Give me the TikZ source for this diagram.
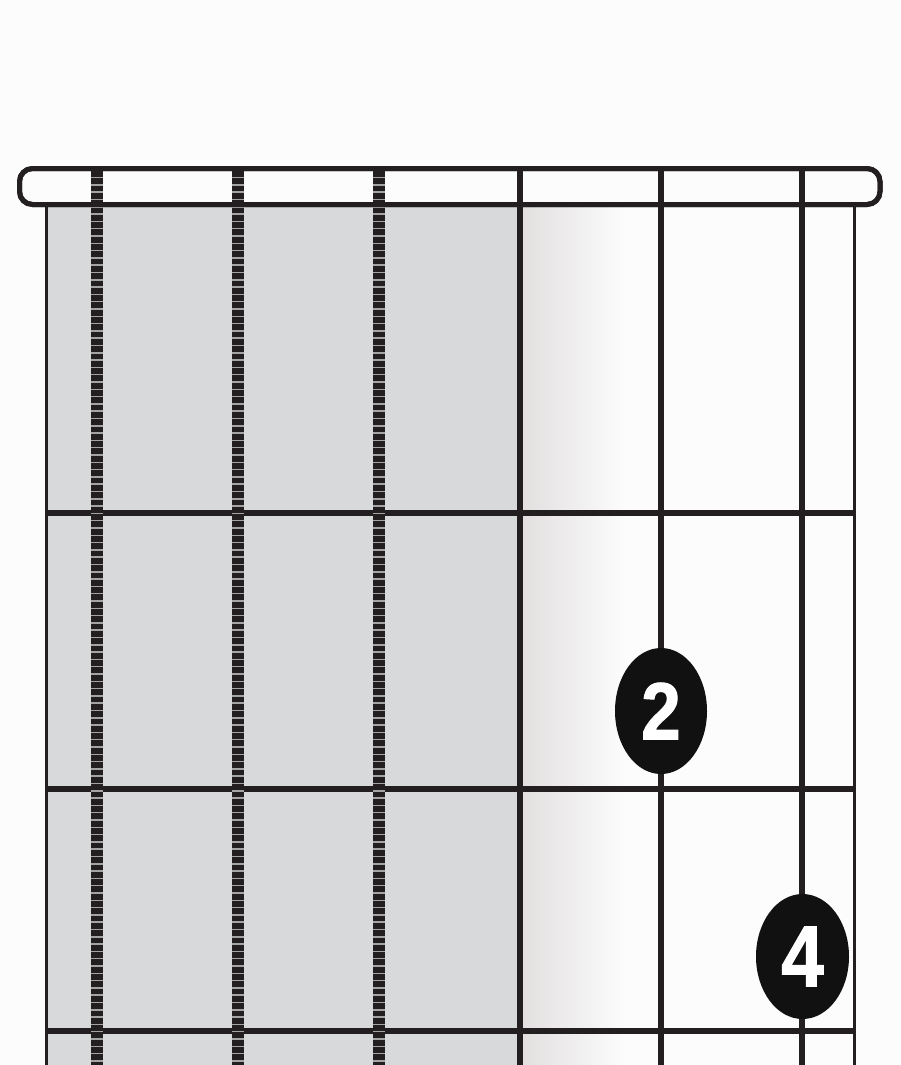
\documentclass[tikz,border=0pt]{standalone}
\usepackage{fontspec}
\newfontfamily\numfont[FakeStretch=0.88,FakeBold=1.2]{Liberation Sans}
\usetikzlibrary{shapes.geometric}
\definecolor{bgc}{HTML}{FCFCFC}
\definecolor{boardgray}{HTML}{D8D9DB}
\definecolor{ink}{HTML}{231F20}
\definecolor{gapgray}{HTML}{A4A4A4}
\definecolor{dotc}{HTML}{111111}
\definecolor{gradl}{HTML}{E2DFDF}
\tikzset{
  fretline/.style={ink, line width=5.5pt},
  edgeline/.style={ink, line width=3pt},
  solidstring/.style={ink, line width=6.5pt},
  mutedbase/.style={gapgray, line width=12pt},
  mutedstring/.style={ink, line width=12pt, dash pattern=on 5.8pt off 1.5pt},
  nutbox/.style={ink, line width=5pt, fill=bgc, rounded corners=13pt},
  fingerdot/.style={ellipse, fill=dotc, inner sep=0pt, text=white,
    minimum width=92pt, minimum height=126pt},
}
\begin{document}
\begin{tikzpicture}[x=1pt, y=-1pt]
\useasboundingbox (0,0) rectangle (900,1065);
\fill[bgc] (0,0) rectangle (900,1065);
% grey (unplayed) area and shading
\fill[boardgray] (47,205) rectangle (519,1065);
\shade[left color=gradl, right color=bgc] (521,205) rectangle (624,1065);
% nut
\draw[nutbox] (19.5,168.5) rectangle (880,204.5);
% frets
\coordinate (f1l) at (46,513);  \coordinate (f1r) at (854,513);
\coordinate (f2l) at (46,789);  \coordinate (f2r) at (854,789);
\coordinate (f3l) at (46,1031); \coordinate (f3r) at (854,1031);
\draw[fretline] (f1l) -- (f1r);
\draw[fretline] (f2l) -- (f2r);
\draw[fretline] (f3l) -- (f3r);
% board edges
\coordinate (el) at (46.5,206); \coordinate (elb) at (46.5,1065);
\coordinate (er) at (854,206);  \coordinate (erb) at (854,1065);
\draw[edgeline] (el) -- (elb);
\draw[edgeline] (er) -- (erb);
% strings
\foreach \i/\x in {1/97,2/238,3/379}{
  \coordinate (s\i t) at (\x,171);
  \coordinate (s\i b) at (\x,1065);
  \draw[mutedbase] (s\i t) -- (s\i b);
  \draw[mutedstring] (s\i t) -- (s\i b);
}
\foreach \i/\x in {4/520,5/661,6/802}{
  \coordinate (s\i t) at (\x,171);
  \coordinate (s\i b) at (\x,1065);
  \draw[solidstring] (s\i t) -- (s\i b);
}
% nut border over strings
\draw[ink, line width=5pt, rounded corners=13pt] (19.5,168.5) rectangle (880,204.5);
% finger dots
\node[fingerdot] (d2) at (661,711) {\numfont\bfseries\fontsize{81}{81}\selectfont 2};
\node[fingerdot, minimum width=93pt, minimum height=125pt] (d4) at (802.5,956.5) {\numfont\bfseries\fontsize{87}{87}\selectfont 4};
\end{tikzpicture}
\end{document}
